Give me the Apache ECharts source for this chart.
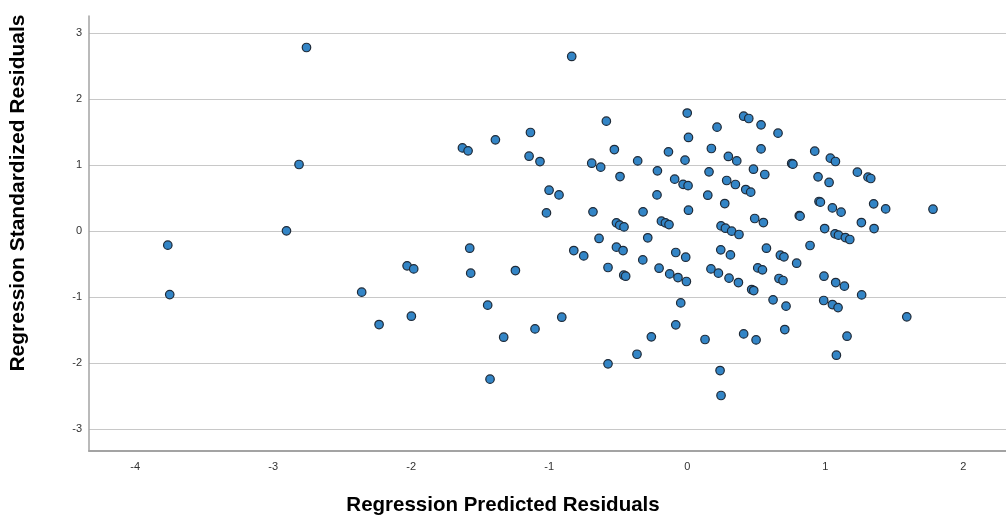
<!DOCTYPE html>
<html>
<head>
<meta charset="utf-8">
<script src="https://cdn.jsdelivr.net/npm/echarts@6/dist/echarts.min.js"></script>
<style>
html,body{margin:0;padding:0;background:#fff;}
#chart{width:1006px;height:517px;}
</style>
</head>
<body>
<div id="chart"></div>
<script>
// Regression Predicted Residuals (x)
var predicted = [
  -2.759,-2.813,-2.904,-3.764,-3.750,-2.359,-2.233,-2.030,-1.982,-1.999,
  -0.837,-0.586,0.000,0.009,-1.629,-1.588,-1.390,-1.136,-1.146,-1.067,
  -0.692,-0.627,-0.528,-0.359,-0.136,-0.016,-0.487,-0.216,-0.091,-0.030,
  0.006,-1.001,-0.929,-1.020,-0.683,-0.320,-0.219,0.009,-0.513,-0.489,
  -0.458,-0.187,-0.158,-0.132,-0.639,-0.286,
  0.216,0.409,0.446,0.535,0.658,0.175,0.535,0.298,0.359,0.158,
  0.480,0.562,0.757,0.766,0.924,1.037,1.074,0.286,0.349,0.424,
  0.460,0.149,0.272,0.948,1.028,1.233,1.310,1.330,0.955,0.965,
  1.052,1.115,1.351,0.812,0.818,0.489,0.552,0.245,0.277,0.322,
  0.375,1.262,1.354,0.996,1.071,1.096,1.146,1.178,
  1.438,1.781,0.890,0.991,1.076,1.139,1.264,0.989,1.052,1.093,
  1.591,1.158,1.081,
  -0.822,-0.750,-0.513,-0.465,-0.322,-0.083,-0.011,-0.574,-0.460,-0.446,
  -0.204,-0.127,-0.067,-0.006,-0.047,-0.909,-0.083,-0.260,-0.364,-0.574,
  0.243,0.313,0.574,0.675,0.701,0.793,0.172,0.226,0.303,0.371,
  0.511,0.545,0.665,0.694,0.467,0.482,0.622,0.716,0.707,0.409,
  0.499,0.129,0.238,0.245,
  -1.576,-1.569,-1.245,-1.446,-1.330,-1.103,-1.429
];
// Regression Standardized Residuals (y)
var standardized = [
  2.783,1.010,0.005,-0.212,-0.960,-0.924,-1.414,-0.525,-0.571,-1.288,
  2.647,1.667,1.790,1.420,1.262,1.217,1.384,1.495,1.136,1.055,
  1.030,0.970,1.237,1.065,1.202,1.076,0.828,0.914,0.788,0.710,
  0.690,0.621,0.550,0.277,0.293,0.293,0.550,0.318,0.126,0.091,
  0.065,0.152,0.126,0.100,-0.110,-0.100,
  1.576,1.742,1.707,1.611,1.485,1.253,1.247,1.132,1.065,0.899,
  0.939,0.859,1.025,1.015,1.212,1.106,1.056,0.768,0.707,0.631,
  0.591,0.545,0.419,0.823,0.738,0.894,0.818,0.798,0.450,0.440,
  0.353,0.288,0.414,0.235,0.228,0.192,0.131,0.080,0.045,0.000,
  -0.050,0.131,0.040,0.040,-0.040,-0.060,-0.096,-0.126,
  0.338,0.333,-0.217,-0.682,-0.778,-0.833,-0.965,-1.050,-1.111,-1.157,
  -1.298,-1.591,-1.879,
  -0.293,-0.374,-0.242,-0.293,-0.435,-0.323,-0.394,-0.550,-0.667,-0.682,
  -0.561,-0.647,-0.702,-0.762,-1.086,-1.303,-1.419,-1.601,-1.864,-2.010,
  -0.283,-0.359,-0.258,-0.364,-0.389,-0.485,-0.571,-0.636,-0.712,-0.778,
  -0.556,-0.586,-0.717,-0.747,-0.884,-0.899,-1.040,-1.136,-1.490,-1.556,
  -1.647,-1.641,-2.111,-2.489,
  -0.258,-0.636,-0.596,-1.121,-1.606,-1.480,-2.242
];
var xTicks = [-4,-3,-2,-1,0,1,2];
var yTicks = [-3,-2,-1,0,1,2,3];
var xTitle = 'Regression Predicted Residuals';
var yTitle = 'Regression Standardized Residuals';

var points = predicted.map(function(x,i){ return [x, standardized[i]]; });

var chart = echarts.init(document.getElementById('chart'), null, {renderer:'canvas'});
var labelFont = {color:'#333', fontSize:11, fontFamily:'Liberation Sans, Arial, sans-serif'};
chart.setOption({
  animation:false,
  backgroundColor:'#fff',
  grid:{left:89, right:0, top:16, bottom:66, containLabel:false},
  xAxis:{
    type:'value', min:-4.335, max:2.31,
    axisLine:{show:true, onZero:false, lineStyle:{color:'#a3a3a3', width:2}},
    axisTick:{show:false, customValues:xTicks},
    axisLabel:Object.assign({customValues:xTicks, margin:10}, labelFont),
    splitLine:{show:false}
  },
  yAxis:{
    type:'value', min:-3.33, max:3.26,
    axisLine:{show:true, onZero:false, lineStyle:{color:'#a3a3a3', width:1.5}},
    axisTick:{show:false, customValues:yTicks},
    axisLabel:Object.assign({customValues:yTicks, margin:7}, labelFont),
    splitLine:{show:true, lineStyle:{color:'#c8c8c8', width:1.2}}
  },
  graphic:[
    {type:'text', x:503, y:505, z:10,
     style:{text:xTitle, align:'center', verticalAlign:'middle',
       font:'bold 20.5px "Liberation Sans", Arial, sans-serif', fill:'#000'}},
    {type:'text', x:18, y:193, rotation:Math.PI/2, z:10,
     style:{text:yTitle, align:'center', verticalAlign:'middle',
       font:'bold 21px "Liberation Sans", Arial, sans-serif', fill:'#000'}}
  ],
  series:[{
    type:'scatter',
    data:points,
    symbol:'circle',
    symbolSize:8.5,
    itemStyle:{color:'#3385c6', borderColor:'#1e2a38', borderWidth:1.2, opacity:1}
  }]
});
</script>
</body>
</html>
